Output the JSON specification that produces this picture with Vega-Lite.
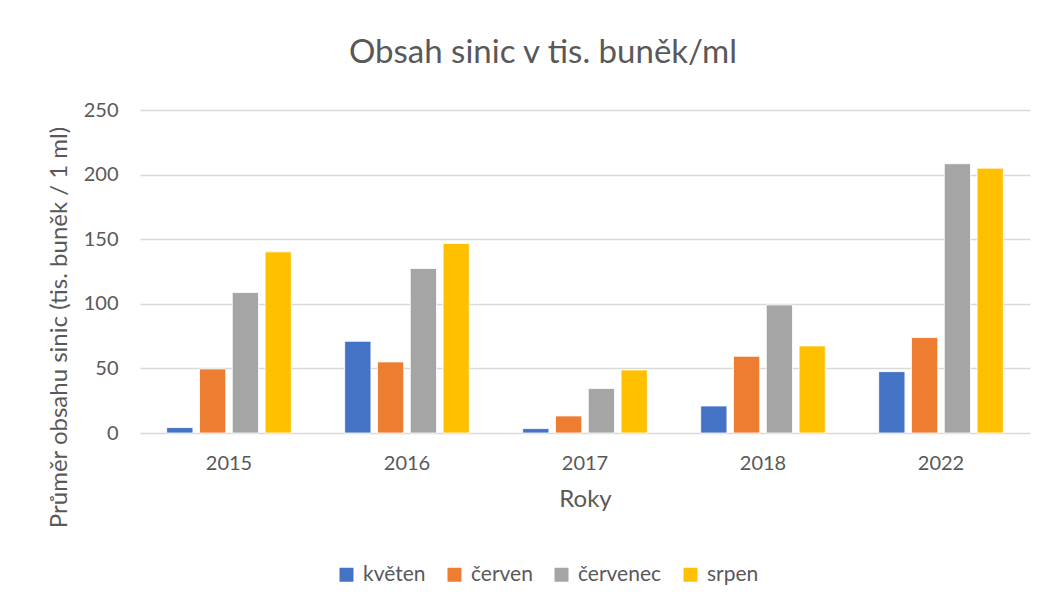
{
  "$schema": "https://vega.github.io/schema/vega-lite/v6.json",
  "autosize": "none",
  "width": 890,
  "height": 323,
  "padding": {"left": 140, "top": 110, "right": 34, "bottom": 171},
  "background": "white",
  "title": {
    "text": "Obsah sinic v tis. buněk/ml",
    "font": "Lato",
    "fontSize": 33,
    "fontWeight": "normal",
    "color": "#595959",
    "anchor": "middle",
    "dx": -42,
    "offset": 30
  },
  "data": {
    "values": [
      {"rok": "2015", "mesic": "květen", "hodnota": 4.2},
      {"rok": "2015", "mesic": "červen", "hodnota": 49.6},
      {"rok": "2015", "mesic": "červenec", "hodnota": 108.7},
      {"rok": "2015", "mesic": "srpen", "hodnota": 140.2},
      {"rok": "2016", "mesic": "květen", "hodnota": 71.0},
      {"rok": "2016", "mesic": "červen", "hodnota": 55.0},
      {"rok": "2016", "mesic": "červenec", "hodnota": 127.3},
      {"rok": "2016", "mesic": "srpen", "hodnota": 146.7},
      {"rok": "2017", "mesic": "květen", "hodnota": 3.4},
      {"rok": "2017", "mesic": "červen", "hodnota": 13.2},
      {"rok": "2017", "mesic": "červenec", "hodnota": 34.4},
      {"rok": "2017", "mesic": "srpen", "hodnota": 48.8},
      {"rok": "2018", "mesic": "květen", "hodnota": 20.9},
      {"rok": "2018", "mesic": "červen", "hodnota": 59.4},
      {"rok": "2018", "mesic": "červenec", "hodnota": 99.1},
      {"rok": "2018", "mesic": "srpen", "hodnota": 67.4},
      {"rok": "2022", "mesic": "květen", "hodnota": 47.5},
      {"rok": "2022", "mesic": "červen", "hodnota": 73.9},
      {"rok": "2022", "mesic": "červenec", "hodnota": 208.4},
      {"rok": "2022", "mesic": "srpen", "hodnota": 205.0}
    ]
  },
  "mark": {"type": "bar", "stroke": "white", "strokeWidth": 0.8},
  "encoding": {
    "x": {
      "field": "rok",
      "type": "nominal",
      "scale": {"paddingInner": 0.3, "paddingOuter": 0.15},
      "axis": {
        "title": "Roky",
        "labelAngle": 0,
        "labelFontSize": 20,
        "labelPadding": 20,
        "titleFontSize": 24,
        "titleFontWeight": "normal",
        "titlePadding": 14,
        "ticks": false,
        "domain": false
      }
    },
    "xOffset": {
      "field": "mesic",
      "type": "nominal",
      "sort": ["květen", "červen", "červenec", "srpen"],
      "scale": {"paddingInner": 0.2, "paddingOuter": 0}
    },
    "y": {
      "field": "hodnota",
      "type": "quantitative",
      "scale": {"domain": [0, 250]},
      "axis": {
        "title": "Průměr obsahu sinic (tis. buněk / 1 ml)",
        "values": [0, 50, 100, 150, 200, 250],
        "labelFontSize": 20,
        "labelPadding": 22,
        "titleFontSize": 24,
        "titleFontWeight": "normal",
        "titlePadding": 12,
        "titleY": 217,
        "ticks": false,
        "domain": false,
        "grid": true,
        "gridColor": "#D9D9D9",
        "gridWidth": 1.5
      }
    },
    "color": {
      "field": "mesic",
      "type": "nominal",
      "sort": ["květen", "červen", "červenec", "srpen"],
      "scale": {
        "domain": ["květen", "červen", "červenec", "srpen"],
        "range": ["#4472C4", "#ED7D31", "#A5A5A5", "#FFC000"]
      },
      "legend": {
        "title": null,
        "orient": "none",
        "direction": "horizontal",
        "columns": 4,
        "legendX": 196,
        "legendY": 454,
        "symbolType": "square",
        "symbolSize": 196,
        "symbolStrokeWidth": 0,
        "labelFontSize": 21,
        "labelOffset": 6,
        "columnPadding": 18
      }
    }
  },
  "config": {
    "font": "Lato",
    "view": {"stroke": null},
    "axis": {
      "labelColor": "#595959",
      "titleColor": "#595959",
      "labelFont": "Lato",
      "titleFont": "Lato"
    },
    "legend": {"labelColor": "#595959", "labelFont": "Lato"}
  }
}
